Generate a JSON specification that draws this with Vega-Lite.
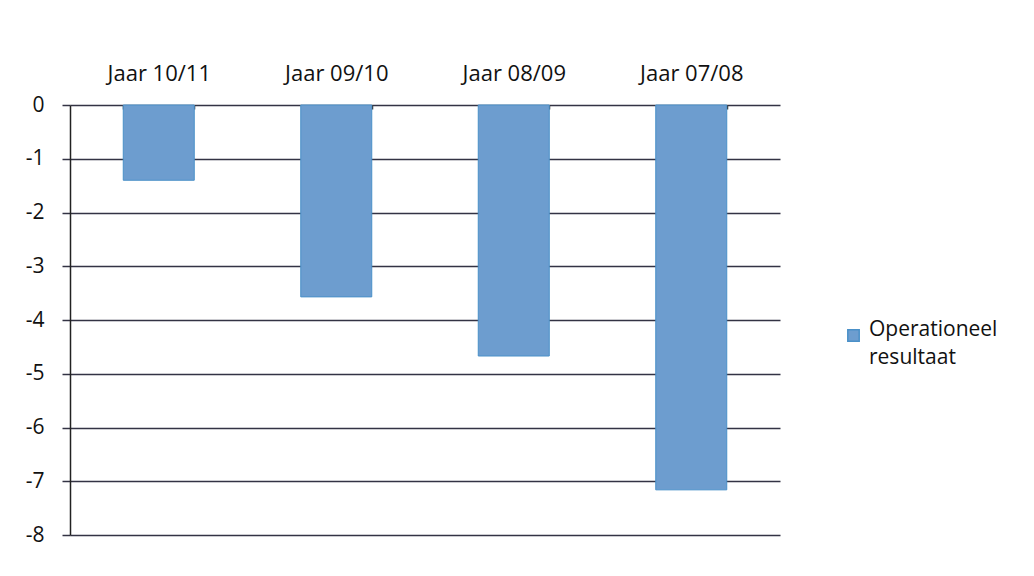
{
  "$schema": "https://vega.github.io/schema/vega-lite/v6.json",
  "autosize": "none",
  "width": 710,
  "height": 430,
  "padding": {"left": 70, "top": 105, "right": 254, "bottom": 41},
  "background": "white",
  "config": {
    "view": {"stroke": null},
    "font": "Open Sans",
    "style": {"guide-label": {"lineHeight": 28}}
  },
  "data": {
    "values": [
      {"jaar": "Jaar 10/11", "serie": "Operationeel resultaat", "waarde": -1.4},
      {"jaar": "Jaar 09/10", "serie": "Operationeel resultaat", "waarde": -3.57},
      {"jaar": "Jaar 08/09", "serie": "Operationeel resultaat", "waarde": -4.67},
      {"jaar": "Jaar 07/08", "serie": "Operationeel resultaat", "waarde": -7.16}
    ]
  },
  "mark": {"type": "bar", "stroke": "#4a90c8", "strokeWidth": 1},
  "encoding": {
    "x": {
      "field": "jaar",
      "type": "nominal",
      "sort": null,
      "scale": {"paddingInner": 0.6, "paddingOuter": 0.3},
      "axis": {
        "orient": "top",
        "title": null,
        "labelAngle": 0,
        "labelFontSize": 22,
        "labelColor": "#111",
        "labelPadding": 24,
        "domain": false,
        "ticks": true,
        "tickBand": "extent",
        "tickSize": -4,
        "tickColor": "#333",
        "tickWidth": 1.5
      }
    },
    "y": {
      "field": "waarde",
      "type": "quantitative",
      "scale": {"domain": [-8, 0], "nice": false},
      "axis": {
        "title": null,
        "values": [0, -1, -2, -3, -4, -5, -6, -7, -8],
        "labelExpr": "datum.value == 0 ? '0' : '-' + abs(datum.value)",
        "labelFontSize": 21,
        "labelColor": "#111",
        "labelPadding": 18,
        "tickSize": 8,
        "tickColor": "#333344",
        "tickWidth": 1.5,
        "domainColor": "#222",
        "domainWidth": 1.5,
        "grid": true,
        "gridColor": "#333344",
        "gridWidth": 1.5
      }
    },
    "color": {
      "field": "serie",
      "type": "nominal",
      "scale": {"range": ["#6d9dcf"]},
      "legend": {
        "title": null,
        "orient": "none",
        "legendX": 773,
        "legendY": 220,
        "symbolType": "square",
        "symbolSize": 130,
        "symbolStrokeColor": "#4a90c8",
        "labelFontSize": 21,
        "labelColor": "#111",
        "labelExpr": "['Operationeel', 'resultaat']",
        "labelBaseline": "alphabetic",
        "labelOffset": 5
      }
    }
  }
}
